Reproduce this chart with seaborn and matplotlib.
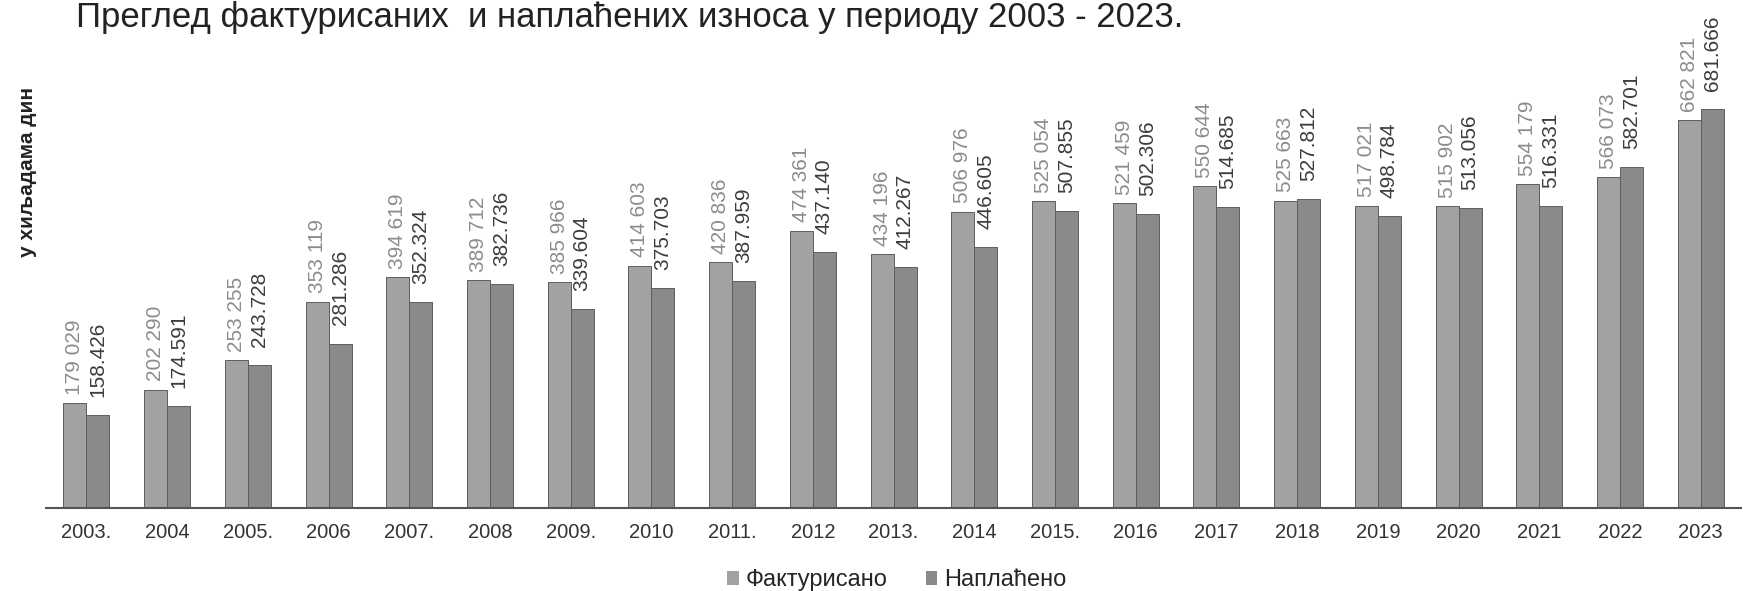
import pandas as pd
import numpy as np
import matplotlib
matplotlib.use("Agg")
import matplotlib.pyplot as plt
from matplotlib.patches import Patch
import seaborn as sns

years = ["2003.", "2004", "2005.", "2006", "2007.", "2008", "2009.", "2010", "2011.", "2012",
         "2013.", "2014", "2015.", "2016", "2017", "2018", "2019", "2020", "2021", "2022", "2023"]
fakturisano = [179029, 202290, 253255, 353119, 394619, 389712, 385966, 414603, 420836, 474361,
               434196, 506976, 525054, 521459, 550644, 525663, 517021, 515902, 554179, 566073, 662821]
naplaceno = [158426, 174591, 243728, 281286, 352324, 382736, 339604, 375703, 387959, 437140,
             412267, 446605, 507855, 502306, 514685, 527812, 498784, 513056, 516331, 582701, 681666]
series = ["Фактурисано", "Наплаћено"]
colors = ["#a2a2a2", "#8a8a8a"]

df = pd.DataFrame({"godina": years * 2,
                   "iznos": fakturisano + naplaceno,
                   "serija": [series[0]] * len(years) + [series[1]] * len(years)})

sns.set_style("white")
plt.rcParams['font.family'] = ['Liberation Sans', 'DejaVu Sans']

fig = plt.figure(figsize=(17.43, 5.91), dpi=100)
ax = fig.add_axes([0.0264, 0.1404, 0.9725, 0.758])

sns.barplot(data=df, x="godina", y="iznos", hue="serija", palette=colors, width=0.57,
            edgecolor="#5e5e5e", linewidth=0.7, ax=ax, legend=False)

ax.set_ylim(0, 766000)
ax.set_xlim(-0.5, len(years) - 0.5)

# labels above bars
lab1 = [f"{v // 1000} {v % 1000:03d}" for v in fakturisano]
lab2 = [f"{v // 1000}.{v % 1000:03d}" for v in naplaceno]
ax.bar_label(ax.containers[0], labels=lab1, rotation=90, padding=6, fontsize=15,
             color="#8c8c8c", clip_on=False)
ax.bar_label(ax.containers[1], labels=lab2, rotation=90, padding=13, fontsize=15,
             color="#3c3c3c", clip_on=False)

for s in ["top", "right", "left"]:
    ax.spines[s].set_visible(False)
ax.spines["bottom"].set_color("#555555")
ax.spines["bottom"].set_linewidth(1.5)
ax.set_yticks([])
ax.set_xlabel("")
ax.set_ylabel("")

ax.set_xticks(np.arange(len(years)))
ax.set_xticklabels(years, fontsize=14.5, color="#333333")
ax.set_xticks(np.arange(len(years) + 1) - 0.5, minor=True)
ax.tick_params(axis="x", which="major", length=0, pad=11)
ax.tick_params(axis="x", which="minor", direction="inout", length=11, width=1.2, color="#555555")

fig.text(0.0436, 0.954, "Преглед фактурисаних  и наплаћених износа у периоду 2003 - 2023.",
         fontsize=25, color="#222222", ha="left", va="baseline")
fig.text(0.0155, 0.709, "у хиљадама дин", fontsize=15, fontweight="bold", rotation=90,
         ha="center", va="center", color="#222222")

handles = [Patch(facecolor=c, edgecolor="none") for c in colors]
fig.legend(handles, series, loc="center", bbox_to_anchor=(0.5146, 0.018), ncol=2,
           frameon=False, fontsize=17, handlelength=0.5, handleheight=0.5,
           handletextpad=0.3, columnspacing=1.6)

fig.savefig("out.png", dpi=100, facecolor="white")
